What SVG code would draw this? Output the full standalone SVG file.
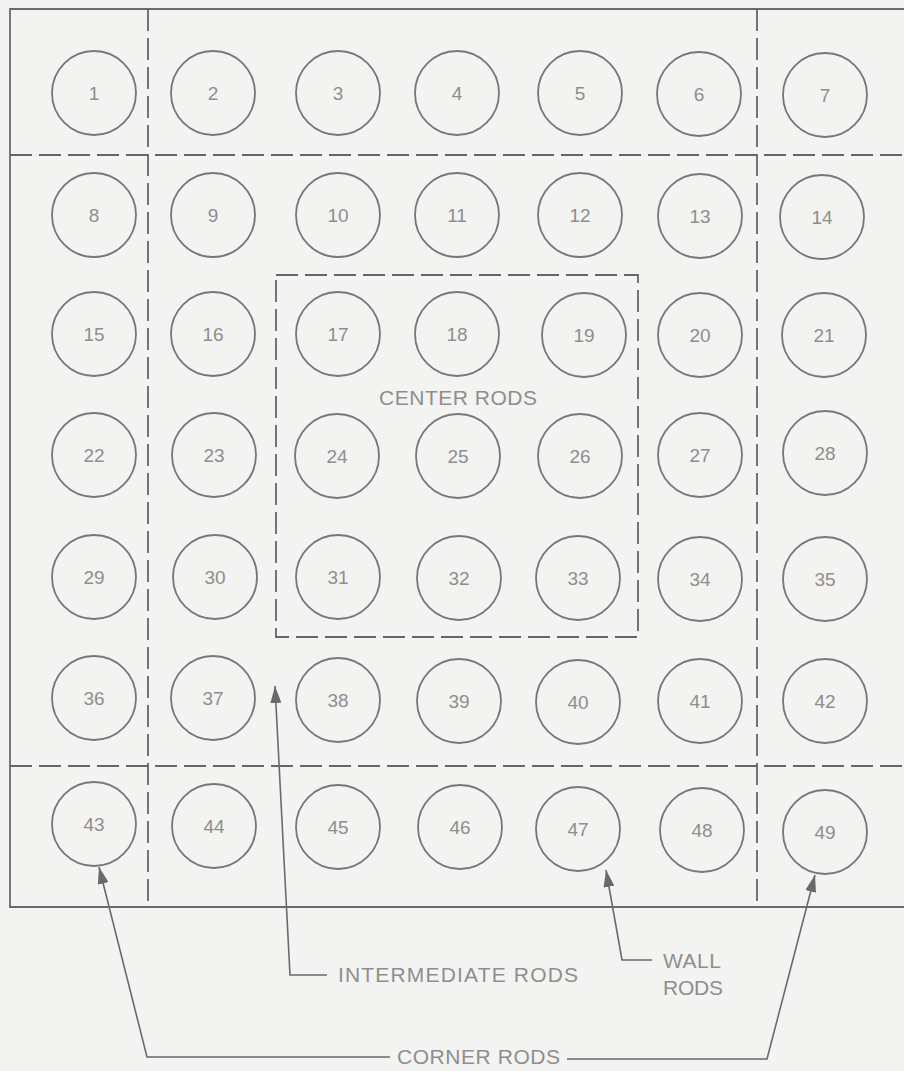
<svg xmlns="http://www.w3.org/2000/svg" width="904" height="1071" viewBox="0 0 904 1071">
<defs>
<style>
.bg{fill:#f3f3f1}
.frame{fill:none;stroke:#6a6a6a;stroke-width:1.8}
.dash{fill:none;stroke:#666;stroke-width:1.8;stroke-dasharray:22 7}
.rod circle{fill:none;stroke:#777;stroke-width:1.8}
.rod text{font-family:"Liberation Sans",Arial,sans-serif;font-size:19px;fill:#8e8e8e;text-anchor:middle}
.lbl{font-family:"Liberation Sans",Arial,sans-serif;font-size:21px;fill:#8e8e8e}
.conn{fill:none;stroke:#6a6a6a;stroke-width:1.6}
</style>
<marker id="ah" viewBox="0 0 17 11" refX="17" refY="5.5" markerWidth="17" markerHeight="11" markerUnits="userSpaceOnUse" orient="auto">
<path d="M0,0 L17,5.5 L0,11 Z" fill="#6a6a6a"/>
</marker>
</defs>
<rect class="bg" x="0" y="0" width="904" height="1071"/>
<g id="frame">
<path class="frame" d="M904,9 L10,9 L10,907 L904,907"/>
<line class="dash" x1="10" y1="155" x2="904" y2="155"/>
<line class="dash" x1="10" y1="766" x2="904" y2="766"/>
<line class="dash" x1="148" y1="9" x2="148" y2="907"/>
<line class="dash" x1="757" y1="9" x2="757" y2="907"/>
</g>
<g id="center-rods">
<rect class="dash" x="276" y="275" width="362" height="362"/>
<text class="lbl" x="379" y="405" font-size="18" textLength="158">CENTER RODS</text>
</g>
<g id="rod-1" class="rod"><circle cx="94" cy="93" r="42"/><text x="94" y="100">1</text></g>
<g id="rod-2" class="rod"><circle cx="213" cy="93" r="42"/><text x="213" y="100">2</text></g>
<g id="rod-3" class="rod"><circle cx="338" cy="93" r="42"/><text x="338" y="100">3</text></g>
<g id="rod-4" class="rod"><circle cx="457" cy="93" r="42"/><text x="457" y="100">4</text></g>
<g id="rod-5" class="rod"><circle cx="580" cy="93" r="42"/><text x="580" y="100">5</text></g>
<g id="rod-6" class="rod"><circle cx="699" cy="94" r="42"/><text x="699" y="101">6</text></g>
<g id="rod-7" class="rod"><circle cx="825" cy="95" r="42"/><text x="825" y="102">7</text></g>
<g id="rod-8" class="rod"><circle cx="94" cy="215" r="42"/><text x="94" y="222">8</text></g>
<g id="rod-9" class="rod"><circle cx="213" cy="215" r="42"/><text x="213" y="222">9</text></g>
<g id="rod-10" class="rod"><circle cx="338" cy="215" r="42"/><text x="338" y="222">10</text></g>
<g id="rod-11" class="rod"><circle cx="457" cy="215" r="42"/><text x="457" y="222">11</text></g>
<g id="rod-12" class="rod"><circle cx="580" cy="215" r="42"/><text x="580" y="222">12</text></g>
<g id="rod-13" class="rod"><circle cx="700" cy="216" r="42"/><text x="700" y="223">13</text></g>
<g id="rod-14" class="rod"><circle cx="822" cy="217" r="42"/><text x="822" y="224">14</text></g>
<g id="rod-15" class="rod"><circle cx="94" cy="334" r="42"/><text x="94" y="341">15</text></g>
<g id="rod-16" class="rod"><circle cx="213" cy="334" r="42"/><text x="213" y="341">16</text></g>
<g id="rod-17" class="rod"><circle cx="338" cy="334" r="42"/><text x="338" y="341">17</text></g>
<g id="rod-18" class="rod"><circle cx="457" cy="334" r="42"/><text x="457" y="341">18</text></g>
<g id="rod-19" class="rod"><circle cx="584" cy="335" r="42"/><text x="584" y="342">19</text></g>
<g id="rod-20" class="rod"><circle cx="700" cy="335" r="42"/><text x="700" y="342">20</text></g>
<g id="rod-21" class="rod"><circle cx="824" cy="335" r="42"/><text x="824" y="342">21</text></g>
<g id="rod-22" class="rod"><circle cx="94" cy="455" r="42"/><text x="94" y="462">22</text></g>
<g id="rod-23" class="rod"><circle cx="214" cy="455" r="42"/><text x="214" y="462">23</text></g>
<g id="rod-24" class="rod"><circle cx="337" cy="456" r="42"/><text x="337" y="463">24</text></g>
<g id="rod-25" class="rod"><circle cx="458" cy="456" r="42"/><text x="458" y="463">25</text></g>
<g id="rod-26" class="rod"><circle cx="580" cy="456" r="42"/><text x="580" y="463">26</text></g>
<g id="rod-27" class="rod"><circle cx="700" cy="455" r="42"/><text x="700" y="462">27</text></g>
<g id="rod-28" class="rod"><circle cx="825" cy="453" r="42"/><text x="825" y="460">28</text></g>
<g id="rod-29" class="rod"><circle cx="94" cy="577" r="42"/><text x="94" y="584">29</text></g>
<g id="rod-30" class="rod"><circle cx="215" cy="577" r="42"/><text x="215" y="584">30</text></g>
<g id="rod-31" class="rod"><circle cx="338" cy="577" r="42"/><text x="338" y="584">31</text></g>
<g id="rod-32" class="rod"><circle cx="459" cy="578" r="42"/><text x="459" y="585">32</text></g>
<g id="rod-33" class="rod"><circle cx="578" cy="578" r="42"/><text x="578" y="585">33</text></g>
<g id="rod-34" class="rod"><circle cx="700" cy="579" r="42"/><text x="700" y="586">34</text></g>
<g id="rod-35" class="rod"><circle cx="825" cy="579" r="42"/><text x="825" y="586">35</text></g>
<g id="rod-36" class="rod"><circle cx="94" cy="698" r="42"/><text x="94" y="705">36</text></g>
<g id="rod-37" class="rod"><circle cx="213" cy="698" r="42"/><text x="213" y="705">37</text></g>
<g id="rod-38" class="rod"><circle cx="338" cy="700" r="42"/><text x="338" y="707">38</text></g>
<g id="rod-39" class="rod"><circle cx="459" cy="701" r="42"/><text x="459" y="708">39</text></g>
<g id="rod-40" class="rod"><circle cx="578" cy="702" r="42"/><text x="578" y="709">40</text></g>
<g id="rod-41" class="rod"><circle cx="700" cy="701" r="42"/><text x="700" y="708">41</text></g>
<g id="rod-42" class="rod"><circle cx="825" cy="701" r="42"/><text x="825" y="708">42</text></g>
<g id="rod-43" class="rod"><circle cx="94" cy="824" r="42"/><text x="94" y="831">43</text></g>
<g id="rod-44" class="rod"><circle cx="214" cy="826" r="42"/><text x="214" y="833">44</text></g>
<g id="rod-45" class="rod"><circle cx="338" cy="827" r="42"/><text x="338" y="834">45</text></g>
<g id="rod-46" class="rod"><circle cx="460" cy="827" r="42"/><text x="460" y="834">46</text></g>
<g id="rod-47" class="rod"><circle cx="578" cy="829" r="42"/><text x="578" y="836">47</text></g>
<g id="rod-48" class="rod"><circle cx="702" cy="830" r="42"/><text x="702" y="837">48</text></g>
<g id="rod-49" class="rod"><circle cx="825" cy="832" r="42"/><text x="825" y="839">49</text></g>
<g id="labels">
<text class="lbl" x="338" y="982" textLength="240">INTERMEDIATE RODS</text>
<text class="lbl" x="663" y="968" textLength="58">WALL</text>
<text class="lbl" x="663" y="995" textLength="60">RODS</text>
<text class="lbl" x="397" y="1064" textLength="163">CORNER RODS</text>
</g>
<g id="connectors">
<path class="conn" marker-end="url(#ah)" d="M327,975 L290,975 L275,686"/>
<path class="conn" marker-end="url(#ah)" d="M652,960 L622,960 L606,870"/>
<path class="conn" marker-end="url(#ah)" d="M390,1057 L147,1057 L99,867"/>
<path class="conn" marker-end="url(#ah)" d="M567,1059 L767,1059 L815,875"/>
</g>
</svg>
